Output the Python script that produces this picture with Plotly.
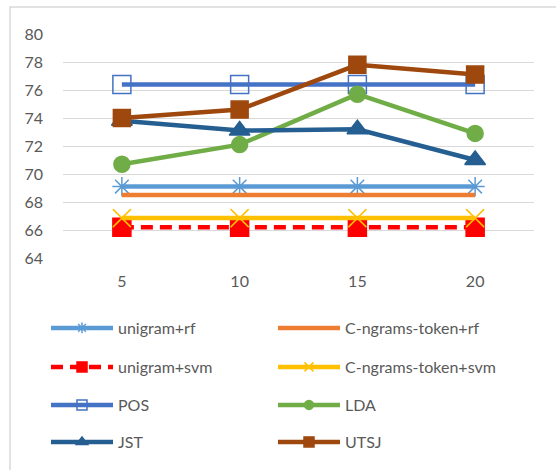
import plotly.graph_objects as go

categories = ["5", "10", "15", "20"]

unigram_rf = [69.1, 69.1, 69.1, 69.1]
cngrams_rf = [68.5, 68.5, 68.5, 68.5]
unigram_svm = [66.2, 66.2, 66.2, 66.2]
cngrams_svm = [66.85, 66.85, 66.85, 66.85]
pos = [76.4, 76.4, 76.4, 76.4]
lda = [70.7, 72.1, 75.7, 72.9]
jst = [73.8, 73.1, 73.2, 71.0]
utsj = [74.0, 74.6, 77.8, 77.1]

FONT = "Lato"
TXT = "#595959"

series = [
    dict(name="unigram+rf", y=unigram_rf, color="#5B9BD5", symbol="asterisk-open", size=16, lsize=9, dash="solid", legend="legend"),
    dict(name="C-ngrams-token+rf", y=cngrams_rf, color="#ED7D31", symbol=None, size=0, lsize=0, dash="solid", legend="legend"),
    dict(name="unigram+svm", y=unigram_svm, color="#FF0000", symbol="square", size=18, lsize=10, dash="12px,7px", legend="legend2"),
    dict(name="C-ngrams-token+svm", y=cngrams_svm, color="#FFC000", symbol="x-thin-open", size=18, lsize=9, dash="solid", legend="legend2"),
    dict(name="POS", y=pos, color="#4472C4", symbol="square-open", size=18, lsize=10, dash="solid", legend="legend3"),
    dict(name="LDA", y=lda, color="#70AD47", symbol="circle", size=16, lsize=9, dash="solid", legend="legend3"),
    dict(name="JST", y=jst, color="#255E91", symbol="triangle-up", size=18, lsize=10, dash="solid", legend="legend4"),
    dict(name="UTSJ", y=utsj, color="#9E480E", symbol="square", size=17, lsize=10, dash="solid", legend="legend4"),
]

fig = go.Figure()
for s in series:
    mode = "lines+markers" if s["symbol"] else "lines"
    marker = dict(symbol=s["symbol"], size=s["size"], color=s["color"],
                  line=dict(color=s["color"], width=1.5)) if s["symbol"] else None
    fig.add_trace(go.Scatter(
        x=categories, y=s["y"], name=s["name"], mode=mode,
        line=dict(color=s["color"], width=4.5, dash=s["dash"]),
        marker=marker, showlegend=False, hoverinfo="x+y+name",
    ))

# legend-only entries with smaller symbols, as in the reference legend
for s in series:
    mode = "lines+markers" if s["symbol"] else "lines"
    marker = dict(symbol=s["symbol"], size=s["lsize"], color=s["color"],
                  line=dict(color=s["color"], width=1.5)) if s["symbol"] else None
    fig.add_trace(go.Scatter(
        x=[categories[0]], y=[None], name=s["name"], mode=mode,
        line=dict(color=s["color"], width=4.5, dash=s["dash"]),
        marker=marker, legend=s["legend"], showlegend=True, hoverinfo="skip",
    ))

row_y = [328, 367, 405, 442]
legend_common = dict(
    orientation="h", xref="container", yref="container",
    xanchor="left", yanchor="middle",
    entrywidth=150, entrywidthmode="pixels", itemwidth=62,
    font=dict(family=FONT, size=16, color=TXT),
    bgcolor="rgba(0,0,0,0)", traceorder="normal",
    itemclick=False, itemdoubleclick=False,
)
legends = {}
for i, yy in enumerate(row_y):
    key = "legend" if i == 0 else f"legend{i+1}"
    legends[key] = dict(legend_common, x=46 / 556, y=1 - yy / 470)

fig.update_layout(
    width=556, height=470,
    margin=dict(l=63, r=22, t=34, b=212, autoexpand=False),
    paper_bgcolor="white", plot_bgcolor="white",
    font=dict(family=FONT, size=16, color=TXT),
    xaxis=dict(type="category", range=[-0.5, 3.5], showgrid=False, showline=False,
               zeroline=False, ticks="", ticklabelstandoff=12,
               tickfont=dict(family=FONT, size=16, color=TXT)),
    yaxis=dict(range=[64, 80], dtick=2, tick0=64, showgrid=True, gridcolor="#D9D9D9",
               gridwidth=1, zeroline=False, showline=False, ticks="",
               ticklabelstandoff=19, tickfont=dict(family=FONT, size=16, color=TXT)),
    shapes=[dict(type="rect", xref="paper", yref="paper",
                 x0=(10 - 63) / 471, x1=(560 - 63) / 471,
                 y0=(258 - 475) / 224, y1=(258 - 7) / 224,
                 line=dict(color="#D9D9D9", width=1.5), layer="below")],
    **legends,
)

fig.write_html("out.html", config={"displayModeBar": False},
               post_script="document.body.style.margin='0';")
